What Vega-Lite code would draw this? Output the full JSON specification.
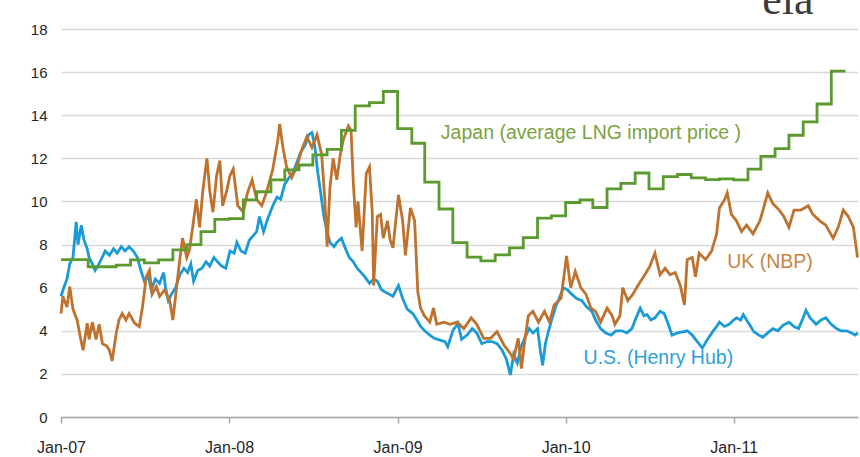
{
  "$schema": "https://vega.github.io/schema/vega-lite/v6.json",
  "width": 797,
  "height": 388,
  "autosize": {"type": "none"},
  "padding": {"left": 61, "top": 29, "right": 2, "bottom": 40},
  "background": "white",
  "config": {"view": {"stroke": null}, "font": "Liberation Sans"},
  "title": {"text": "eia", "anchor": "end", "font": "Liberation Serif", "fontSize": 44, "fontWeight": "normal", "color": "#3a3a3a", "baseline": "alphabetic", "offset": 0, "dy": 36, "dx": -50},
  "datasets": {
    "us": [
      {"date":"2007-01-01","price":5.6},{"date":"2007-01-07","price":6.0},{"date":"2007-01-14","price":6.4},{"date":"2007-01-20","price":7.1},{"date":"2007-01-27","price":7.4},
      {"date":"2007-02-03","price":9.05},{"date":"2007-02-07","price":8.0},{"date":"2007-02-14","price":8.9},{"date":"2007-02-20","price":8.2},{"date":"2007-02-27","price":7.8},
      {"date":"2007-03-03","price":7.4},{"date":"2007-03-10","price":7.1},{"date":"2007-03-16","price":6.8},{"date":"2007-03-22","price":7.0},{"date":"2007-03-29","price":7.3},
      {"date":"2007-04-07","price":7.7},{"date":"2007-04-16","price":7.5},{"date":"2007-04-25","price":7.8},
      {"date":"2007-05-03","price":7.6},{"date":"2007-05-12","price":7.9},{"date":"2007-05-20","price":7.7},{"date":"2007-05-29","price":7.9},
      {"date":"2007-06-07","price":7.7},{"date":"2007-06-16","price":7.4},{"date":"2007-06-22","price":6.9},
      {"date":"2007-07-01","price":6.3},{"date":"2007-07-10","price":6.5},{"date":"2007-07-16","price":5.9},{"date":"2007-07-25","price":6.4},
      {"date":"2007-08-03","price":6.2},{"date":"2007-08-12","price":6.7},{"date":"2007-08-16","price":6.0},{"date":"2007-08-22","price":5.4},{"date":"2007-08-29","price":5.7},
      {"date":"2007-09-07","price":6.0},{"date":"2007-09-16","price":6.6},{"date":"2007-09-25","price":6.9},
      {"date":"2007-10-03","price":6.7},{"date":"2007-10-10","price":7.1},{"date":"2007-10-16","price":6.3},{"date":"2007-10-25","price":6.8},
      {"date":"2007-11-03","price":6.9},{"date":"2007-11-12","price":7.2},{"date":"2007-11-20","price":7.0},{"date":"2007-11-29","price":7.4},
      {"date":"2007-12-07","price":7.2},{"date":"2007-12-16","price":7.0},{"date":"2007-12-25","price":6.9},
      {"date":"2008-01-03","price":7.7},{"date":"2008-01-12","price":7.6},{"date":"2008-01-18","price":8.1},{"date":"2008-01-27","price":7.7},
      {"date":"2008-02-05","price":7.6},{"date":"2008-02-14","price":8.2},{"date":"2008-02-22","price":8.4},
      {"date":"2008-03-01","price":8.6},{"date":"2008-03-07","price":9.3},{"date":"2008-03-16","price":8.6},{"date":"2008-03-25","price":9.2},
      {"date":"2008-04-05","price":9.8},{"date":"2008-04-14","price":10.2},{"date":"2008-04-22","price":10.1},
      {"date":"2008-05-01","price":10.8},{"date":"2008-05-10","price":11.1},{"date":"2008-05-18","price":11.3},{"date":"2008-05-27","price":11.8},
      {"date":"2008-06-05","price":12.3},{"date":"2008-06-14","price":12.6},{"date":"2008-06-22","price":13.1},{"date":"2008-06-29","price":13.2},
      {"date":"2008-07-05","price":12.6},{"date":"2008-07-12","price":11.3},{"date":"2008-07-18","price":10.4},{"date":"2008-07-25","price":9.3},
      {"date":"2008-08-01","price":8.6},{"date":"2008-08-07","price":8.1},{"date":"2008-08-16","price":7.9},{"date":"2008-08-22","price":8.1},
      {"date":"2008-09-01","price":8.3},{"date":"2008-09-10","price":7.8},{"date":"2008-09-18","price":7.4},{"date":"2008-09-27","price":7.2},
      {"date":"2008-10-05","price":6.9},{"date":"2008-10-14","price":6.7},{"date":"2008-10-22","price":6.5},
      {"date":"2008-11-01","price":6.2},{"date":"2008-11-10","price":6.4},{"date":"2008-11-18","price":6.3},{"date":"2008-11-27","price":5.9},
      {"date":"2008-12-05","price":5.8},{"date":"2008-12-14","price":5.7},{"date":"2008-12-22","price":5.6},{"date":"2008-12-29","price":5.9},
      {"date":"2009-01-03","price":6.1},{"date":"2009-01-12","price":5.5},{"date":"2009-01-22","price":5.0},
      {"date":"2009-02-03","price":4.8},{"date":"2009-02-12","price":4.5},{"date":"2009-02-20","price":4.2},
      {"date":"2009-03-01","price":4.0},{"date":"2009-03-12","price":3.8},{"date":"2009-03-22","price":3.65},
      {"date":"2009-04-03","price":3.57},{"date":"2009-04-14","price":3.5},{"date":"2009-04-20","price":3.26},
      {"date":"2009-05-01","price":4.0},{"date":"2009-05-12","price":4.35},{"date":"2009-05-20","price":3.6},
      {"date":"2009-06-01","price":3.8},{"date":"2009-06-12","price":4.1},{"date":"2009-06-22","price":3.9},
      {"date":"2009-07-03","price":3.4},{"date":"2009-07-14","price":3.5},{"date":"2009-07-25","price":3.5},
      {"date":"2009-08-05","price":3.4},{"date":"2009-08-16","price":3.1},{"date":"2009-08-25","price":2.7},
      {"date":"2009-09-03","price":1.95},{"date":"2009-09-10","price":2.9},{"date":"2009-09-18","price":2.5},{"date":"2009-09-27","price":3.3},
      {"date":"2009-10-05","price":3.7},{"date":"2009-10-14","price":4.1},{"date":"2009-10-22","price":3.9},
      {"date":"2009-11-01","price":4.1},{"date":"2009-11-07","price":3.1},{"date":"2009-11-12","price":2.4},{"date":"2009-11-18","price":3.4},{"date":"2009-11-25","price":4.0},
      {"date":"2009-12-03","price":4.6},{"date":"2009-12-10","price":5.1},{"date":"2009-12-18","price":5.5},{"date":"2009-12-27","price":6.0},
      {"date":"2010-01-05","price":5.9},{"date":"2010-01-14","price":5.7},{"date":"2010-01-25","price":5.5},
      {"date":"2010-02-05","price":5.4},{"date":"2010-02-16","price":5.1},{"date":"2010-02-27","price":4.9},
      {"date":"2010-03-07","price":4.5},{"date":"2010-03-18","price":4.1},{"date":"2010-03-29","price":3.9},
      {"date":"2010-04-10","price":3.8},{"date":"2010-04-20","price":4.0},
      {"date":"2010-05-03","price":4.0},{"date":"2010-05-14","price":3.9},{"date":"2010-05-25","price":4.1},
      {"date":"2010-06-03","price":4.6},{"date":"2010-06-12","price":5.05},{"date":"2010-06-20","price":4.7},{"date":"2010-06-27","price":4.75},
      {"date":"2010-07-05","price":4.5},{"date":"2010-07-14","price":4.6},{"date":"2010-07-25","price":4.9},
      {"date":"2010-08-03","price":4.8},{"date":"2010-08-12","price":4.3},{"date":"2010-08-20","price":3.8},
      {"date":"2010-09-01","price":3.9},{"date":"2010-09-12","price":3.95},{"date":"2010-09-22","price":4.0},
      {"date":"2010-10-03","price":3.8},{"date":"2010-10-14","price":3.5},{"date":"2010-10-25","price":3.2},
      {"date":"2010-11-05","price":3.6},{"date":"2010-11-16","price":3.95},{"date":"2010-11-25","price":4.2},
      {"date":"2010-12-01","price":4.4},{"date":"2010-12-12","price":4.2},{"date":"2010-12-22","price":4.3},
      {"date":"2011-01-01","price":4.5},{"date":"2011-01-07","price":4.6},{"date":"2011-01-16","price":4.5},{"date":"2011-01-22","price":4.75},{"date":"2011-01-29","price":4.5},
      {"date":"2011-02-07","price":4.2},{"date":"2011-02-14","price":3.95},{"date":"2011-02-25","price":3.8},
      {"date":"2011-03-05","price":3.7},{"date":"2011-03-16","price":3.9},{"date":"2011-03-27","price":4.1},
      {"date":"2011-04-07","price":4.0},{"date":"2011-04-18","price":4.25},
      {"date":"2011-05-01","price":4.4},{"date":"2011-05-12","price":4.2},{"date":"2011-05-22","price":4.1},
      {"date":"2011-06-01","price":4.6},{"date":"2011-06-07","price":4.95},{"date":"2011-06-16","price":4.6},{"date":"2011-06-29","price":4.3},
      {"date":"2011-07-10","price":4.5},{"date":"2011-07-20","price":4.6},
      {"date":"2011-08-01","price":4.3},{"date":"2011-08-12","price":4.1},{"date":"2011-08-22","price":4.0},
      {"date":"2011-09-03","price":4.0},{"date":"2011-09-14","price":3.9},{"date":"2011-09-22","price":3.8},{"date":"2011-09-28","price":3.9}
    ],
    "uk": [
      {"date":"2007-01-01","price":4.8},{"date":"2007-01-05","price":5.6},{"date":"2007-01-14","price":5.1},{"date":"2007-01-20","price":6.05},{"date":"2007-01-27","price":5.0},
      {"date":"2007-02-05","price":4.5},{"date":"2007-02-12","price":3.7},{"date":"2007-02-18","price":3.1},{"date":"2007-02-27","price":4.35},
      {"date":"2007-03-03","price":3.6},{"date":"2007-03-10","price":4.4},{"date":"2007-03-18","price":3.6},{"date":"2007-03-25","price":4.3},
      {"date":"2007-04-01","price":3.4},{"date":"2007-04-10","price":3.3},{"date":"2007-04-16","price":3.1},{"date":"2007-04-22","price":2.6},
      {"date":"2007-05-01","price":3.9},{"date":"2007-05-07","price":4.5},{"date":"2007-05-14","price":4.8},{"date":"2007-05-22","price":4.5},{"date":"2007-05-29","price":4.8},
      {"date":"2007-06-10","price":4.35},{"date":"2007-06-20","price":4.2},{"date":"2007-06-27","price":5.1},
      {"date":"2007-07-05","price":6.5},{"date":"2007-07-12","price":6.8},{"date":"2007-07-18","price":5.7},{"date":"2007-07-27","price":6.05},
      {"date":"2007-08-03","price":5.6},{"date":"2007-08-14","price":5.9},{"date":"2007-08-25","price":5.4},
      {"date":"2007-09-01","price":4.5},{"date":"2007-09-10","price":6.2},{"date":"2007-09-16","price":7.3},{"date":"2007-09-22","price":8.3},
      {"date":"2007-10-01","price":7.4},{"date":"2007-10-07","price":7.75},{"date":"2007-10-14","price":8.8},{"date":"2007-10-22","price":10.1},{"date":"2007-10-29","price":8.8},
      {"date":"2007-11-05","price":10.5},{"date":"2007-11-14","price":12.0},{"date":"2007-11-20","price":10.5},{"date":"2007-11-27","price":9.5},
      {"date":"2007-12-05","price":11.2},{"date":"2007-12-12","price":11.9},{"date":"2007-12-18","price":9.8},{"date":"2007-12-27","price":10.5},
      {"date":"2008-01-03","price":11.2},{"date":"2008-01-10","price":11.5},{"date":"2008-01-20","price":9.8},
      {"date":"2008-02-01","price":9.5},{"date":"2008-02-10","price":10.4},{"date":"2008-02-20","price":11.0},
      {"date":"2008-03-01","price":10.1},{"date":"2008-03-12","price":9.8},{"date":"2008-03-22","price":10.4},
      {"date":"2008-04-05","price":11.5},{"date":"2008-04-16","price":12.85},{"date":"2008-04-20","price":13.6},{"date":"2008-04-27","price":12.5},
      {"date":"2008-05-05","price":11.6},{"date":"2008-05-16","price":11.1},{"date":"2008-05-27","price":11.6},
      {"date":"2008-06-07","price":12.4},{"date":"2008-06-18","price":13.0},{"date":"2008-06-29","price":12.5},
      {"date":"2008-07-10","price":13.1},{"date":"2008-07-20","price":12.2},{"date":"2008-07-27","price":10.1},
      {"date":"2008-08-01","price":7.9},{"date":"2008-08-07","price":10.6},{"date":"2008-08-14","price":12.0},{"date":"2008-08-22","price":11.0},{"date":"2008-08-29","price":12.1},
      {"date":"2008-09-05","price":12.85},{"date":"2008-09-16","price":13.5},{"date":"2008-09-22","price":13.3},{"date":"2008-09-27","price":10.8},
      {"date":"2008-10-03","price":8.8},{"date":"2008-10-07","price":10.0},{"date":"2008-10-16","price":7.7},{"date":"2008-10-25","price":11.3},
      {"date":"2008-11-01","price":11.6},{"date":"2008-11-07","price":9.5},{"date":"2008-11-10","price":6.1},{"date":"2008-11-18","price":9.3},{"date":"2008-11-25","price":9.4},
      {"date":"2008-12-01","price":8.3},{"date":"2008-12-10","price":9.1},{"date":"2008-12-16","price":8.2},{"date":"2008-12-22","price":7.85},
      {"date":"2009-01-03","price":10.3},{"date":"2009-01-12","price":9.1},{"date":"2009-01-18","price":7.5},{"date":"2009-01-29","price":9.7},
      {"date":"2009-02-07","price":9.1},{"date":"2009-02-14","price":5.8},{"date":"2009-02-20","price":5.05},{"date":"2009-02-28","price":4.7},
      {"date":"2009-03-12","price":4.4},{"date":"2009-03-20","price":5.05},{"date":"2009-03-27","price":4.3},
      {"date":"2009-04-12","price":4.4},{"date":"2009-04-25","price":4.3},
      {"date":"2009-05-10","price":4.4},{"date":"2009-05-25","price":4.1},
      {"date":"2009-06-10","price":4.6},{"date":"2009-06-22","price":4.3},
      {"date":"2009-07-07","price":3.65},{"date":"2009-07-22","price":3.65},
      {"date":"2009-08-05","price":3.96},{"date":"2009-08-20","price":3.34},
      {"date":"2009-09-01","price":3.0},{"date":"2009-09-10","price":2.7},{"date":"2009-09-20","price":3.65},{"date":"2009-09-27","price":2.25},
      {"date":"2009-10-03","price":3.34},{"date":"2009-10-12","price":4.7},{"date":"2009-10-22","price":4.9},
      {"date":"2009-11-03","price":4.4},{"date":"2009-11-16","price":4.9},{"date":"2009-11-27","price":4.4},
      {"date":"2009-12-07","price":5.2},{"date":"2009-12-22","price":5.5},
      {"date":"2010-01-03","price":7.47},{"date":"2010-01-12","price":6.0},{"date":"2010-01-22","price":6.75},
      {"date":"2010-02-03","price":6.0},{"date":"2010-02-14","price":5.7},{"date":"2010-02-25","price":5.05},
      {"date":"2010-03-07","price":4.9},{"date":"2010-03-18","price":4.4},
      {"date":"2010-04-01","price":5.05},{"date":"2010-04-12","price":4.7},{"date":"2010-04-18","price":4.3},{"date":"2010-04-29","price":4.7},
      {"date":"2010-05-05","price":6.0},{"date":"2010-05-16","price":5.4},{"date":"2010-05-27","price":5.7},
      {"date":"2010-06-07","price":6.1},{"date":"2010-06-22","price":6.6},
      {"date":"2010-07-03","price":7.0},{"date":"2010-07-14","price":7.6},{"date":"2010-07-25","price":6.6},
      {"date":"2010-08-05","price":6.9},{"date":"2010-08-16","price":6.6},{"date":"2010-08-27","price":6.7},
      {"date":"2010-09-07","price":6.1},{"date":"2010-09-16","price":5.2},{"date":"2010-09-22","price":7.3},
      {"date":"2010-10-03","price":7.4},{"date":"2010-10-10","price":6.5},{"date":"2010-10-18","price":7.6},
      {"date":"2010-11-01","price":7.3},{"date":"2010-11-14","price":7.7},{"date":"2010-11-25","price":8.5},
      {"date":"2010-12-01","price":9.7},{"date":"2010-12-12","price":10.07},{"date":"2010-12-18","price":10.4},{"date":"2010-12-27","price":9.4},
      {"date":"2011-01-07","price":9.1},{"date":"2011-01-18","price":8.6},{"date":"2011-01-29","price":8.9},
      {"date":"2011-02-12","price":8.5},{"date":"2011-02-27","price":9.1},
      {"date":"2011-03-07","price":9.7},{"date":"2011-03-16","price":10.4},{"date":"2011-03-27","price":9.9},
      {"date":"2011-04-10","price":9.6},{"date":"2011-04-20","price":9.3},
      {"date":"2011-05-01","price":8.8},{"date":"2011-05-12","price":9.6},{"date":"2011-05-27","price":9.6},
      {"date":"2011-06-12","price":9.8},{"date":"2011-06-22","price":9.4},
      {"date":"2011-07-07","price":9.1},{"date":"2011-07-20","price":8.9},
      {"date":"2011-08-05","price":8.3},{"date":"2011-08-16","price":8.8},{"date":"2011-08-27","price":9.6},
      {"date":"2011-09-07","price":9.3},{"date":"2011-09-18","price":8.8},{"date":"2011-09-27","price":7.4}
    ],
    "japan": [
      {"date":"2007-01-01","price":7.3},{"date":"2007-02-01","price":7.3},{"date":"2007-03-01","price":6.97},{"date":"2007-04-01","price":6.97},
      {"date":"2007-05-01","price":7.05},{"date":"2007-06-01","price":7.29},{"date":"2007-07-01","price":7.15},{"date":"2007-08-01","price":7.29},
      {"date":"2007-09-01","price":7.75},{"date":"2007-10-01","price":8.0},{"date":"2007-11-01","price":8.6},{"date":"2007-12-01","price":9.17},
      {"date":"2008-01-01","price":9.2},{"date":"2008-02-01","price":10.07},{"date":"2008-03-01","price":10.45},{"date":"2008-04-01","price":11.0},
      {"date":"2008-05-01","price":11.46},{"date":"2008-06-01","price":11.69},{"date":"2008-07-01","price":12.16},{"date":"2008-08-01","price":12.42},
      {"date":"2008-09-01","price":13.3},{"date":"2008-10-01","price":14.43},{"date":"2008-11-01","price":14.58},{"date":"2008-12-01","price":15.1},
      {"date":"2009-01-01","price":13.38},{"date":"2009-02-01","price":12.7},{"date":"2009-03-01","price":10.9},{"date":"2009-04-01","price":9.65},
      {"date":"2009-05-01","price":8.09},{"date":"2009-06-01","price":7.42},{"date":"2009-07-01","price":7.24},{"date":"2009-08-01","price":7.52},
      {"date":"2009-09-01","price":7.85},{"date":"2009-10-01","price":8.32},{"date":"2009-11-01","price":9.23},{"date":"2009-12-01","price":9.33},
      {"date":"2010-01-01","price":9.95},{"date":"2010-02-01","price":10.07},{"date":"2010-03-01","price":9.72},{"date":"2010-04-01","price":10.58},
      {"date":"2010-05-01","price":10.84},{"date":"2010-06-01","price":11.32},{"date":"2010-07-01","price":10.58},{"date":"2010-08-01","price":11.15},
      {"date":"2010-09-01","price":11.25},{"date":"2010-10-01","price":11.09},{"date":"2010-11-01","price":11.01},{"date":"2010-12-01","price":11.05},
      {"date":"2011-01-01","price":11.0},{"date":"2011-02-01","price":11.5},{"date":"2011-03-01","price":12.09},{"date":"2011-04-01","price":12.45},
      {"date":"2011-05-01","price":13.07},{"date":"2011-06-01","price":13.69},{"date":"2011-07-01","price":14.52},{"date":"2011-08-01","price":16.05},
      {"date":"2011-09-01","price":16.05}
    ],
    "labels": [
      {"date":"2009-04-05","price":13.18,"series":"Japan","label":"Japan (average LNG import price )"},
      {"date":"2010-12-18","price":7.19,"series":"UK","label":"UK (NBP)"},
      {"date":"2010-02-09","price":2.74,"series":"US","label":"U.S. (Henry Hub)"}
    ]
  },
  "encoding": {
    "x": {
      "field": "date", "type": "temporal",
      "scale": {"type": "utc", "domain": [{"year": 2007, "month": 1, "date": 1, "utc": true}, {"year": 2011, "month": 9, "date": 28, "utc": true}]},
      "axis": {
        "title": null, "grid": false,
        "values": [{"year": 2007, "month": 1, "date": 1, "utc": true}, {"year": 2008, "month": 1, "date": 1, "utc": true}, {"year": 2009, "month": 1, "date": 1, "utc": true}, {"year": 2010, "month": 1, "date": 1, "utc": true}, {"year": 2011, "month": 1, "date": 1, "utc": true}],
        "format": "%b-%y",
        "labelFont": "Liberation Sans", "labelFontSize": 16, "labelColor": "#262626",
        "domainColor": "#a6a6a6", "domainWidth": 1.5,
        "tickColor": "#a6a6a6", "tickWidth": 1.5, "tickSize": 6,
        "labelPadding": 16, "labelFlush": false, "labelOverlap": false
      }
    },
    "y": {
      "field": "price", "type": "quantitative",
      "scale": {"domain": [0, 18], "nice": false},
      "axis": {
        "title": null, "values": [0, 2, 4, 6, 8, 10, 12, 14, 16, 18],
        "domain": false, "ticks": false,
        "labelFont": "Liberation Sans", "labelFontSize": 15, "labelColor": "#262626", "labelPadding": 14,
        "gridColor": "#d9d9d9", "gridWidth": 1.5
      }
    }
  },
  "layer": [
    {"data": {"name": "us"}, "mark": {"type": "line", "color": "#1a9ad6", "strokeWidth": 2.8}},
    {"data": {"name": "uk"}, "mark": {"type": "line", "color": "#be722d", "strokeWidth": 2.8}},
    {"data": {"name": "japan"}, "mark": {"type": "line", "color": "#5b9a2f", "strokeWidth": 2.8, "interpolate": "step-after"}},
    {
      "data": {"name": "labels"},
      "mark": {"type": "text", "align": "left", "baseline": "middle", "font": "Liberation Sans", "fontSize": 19.5},
      "encoding": {
        "text": {"field": "label"},
        "color": {"field": "series", "type": "nominal", "legend": null, "scale": {"domain": ["Japan", "UK", "US"], "range": ["#7ba241", "#c6843f", "#2f9fdb"]}}
      }
    }
  ]
}
